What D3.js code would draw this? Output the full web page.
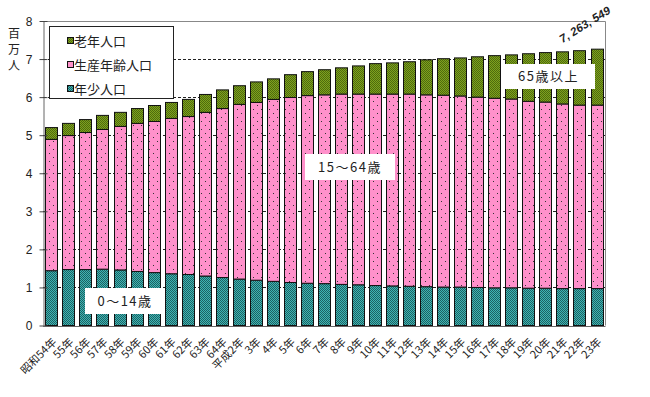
<!DOCTYPE html>
<html>
<head>
<meta charset="utf-8">
<script src="https://cdn.jsdelivr.net/npm/d3@7"></script>
<style>
  body { margin: 0; background: #fff; }
  text { font-family: "Noto Sans CJK JP", "Liberation Sans", sans-serif; fill: #222; }
</style>
</head>
<body>
<svg id="chart" width="650" height="397"></svg>
<script>
// Data (millions of people)
var years = ["昭和54年", "55年", "56年", "57年", "58年", "59年", "60年", "61年", "62年", "63年", "64年",
  "平成2年", "3年", "4年", "5年", "6年", "7年", "8年", "9年", "10年", "11年", "12年", "13年",
  "14年", "15年", "16年", "17年", "18年", "19年", "20年", "21年", "22年", "23年"];
var young = [1.44, 1.47, 1.47, 1.48, 1.46, 1.42, 1.39, 1.36, 1.34, 1.30, 1.26, 1.22, 1.19, 1.16, 1.13, 1.11,
  1.10, 1.08, 1.07, 1.05, 1.04, 1.03, 1.02, 1.01, 1.01, 1.00, 0.99, 0.99, 0.98, 0.98, 0.97, 0.97, 0.97];
var working = [3.45, 3.52, 3.60, 3.67, 3.77, 3.89, 3.97, 4.08, 4.15, 4.30, 4.44, 4.59, 4.67, 4.78, 4.86, 4.93,
  4.96, 5.00, 5.01, 5.03, 5.04, 5.05, 5.04, 5.04, 5.02, 5.00, 4.98, 4.96, 4.91, 4.89, 4.85, 4.82, 4.82];
var elderly = [0.31, 0.32, 0.34, 0.37, 0.37, 0.39, 0.42, 0.42, 0.45, 0.47, 0.49, 0.49, 0.54, 0.54, 0.60, 0.63,
  0.66, 0.69, 0.74, 0.80, 0.82, 0.85, 0.92, 0.96, 1.00, 1.06, 1.12, 1.16, 1.25, 1.30, 1.37, 1.43, 1.47];
var yTicks = [0, 1, 2, 3, 4, 5, 6, 7, 8];
var seriesKeys = ["young", "working", "elderly"];
var legendNames = { elderly: "老年人口", working: "生産年齢人口", young: "年少人口" };
var lastTotalLabel = "7, 263, 549";

// Plot area
var plotL = 43, plotR = 605, plotT = 21, plotB = 325.5;

var svg = d3.select("#chart");
var defs = svg.append("defs");

// Fill patterns
var teal = defs.append("pattern").attr("id", "p-young").attr("patternUnits", "userSpaceOnUse")
  .attr("width", 2).attr("height", 2);
teal.append("rect").attr("width", 2).attr("height", 2).attr("fill", "#3fb5b3");
teal.append("rect").attr("width", 1).attr("height", 1).attr("fill", "#1c6163");
teal.append("rect").attr("x", 1).attr("y", 1).attr("width", 1).attr("height", 1).attr("fill", "#1c6163");

var pink = defs.append("pattern").attr("id", "p-working").attr("patternUnits", "userSpaceOnUse")
  .attr("width", 8).attr("height", 8);
pink.append("rect").attr("width", 8).attr("height", 8).attr("fill", "#ff91cb");
pink.append("rect").attr("x", 1).attr("y", 1).attr("width", 1).attr("height", 1).attr("fill", "#333");
pink.append("rect").attr("x", 5).attr("y", 5).attr("width", 1).attr("height", 1).attr("fill", "#333");

var green = defs.append("pattern").attr("id", "p-elderly").attr("patternUnits", "userSpaceOnUse")
  .attr("width", 2).attr("height", 2);
green.append("rect").attr("width", 2).attr("height", 2).attr("fill", "#7fa21e");
green.append("rect").attr("width", 1).attr("height", 1).attr("fill", "#4e6a0e");
green.append("rect").attr("x", 1).attr("y", 1).attr("width", 1).attr("height", 1).attr("fill", "#4e6a0e");

// Scales
var x = d3.scaleBand().domain(years).range([plotL, plotR]).paddingInner(0.29).paddingOuter(0.14);
var y = d3.scaleLinear().domain([0, 8]).range([plotB, plotT]);

var rows = years.map(function (d, i) {
  return { year: d, young: young[i], working: working[i], elderly: elderly[i] };
});
var stacked = d3.stack().keys(seriesKeys)(rows);

// Gridlines (dashed) behind bars
svg.append("g").selectAll("line").data(yTicks.filter(function (t) { return t > 0 && t < 8; }))
  .enter().append("line")
  .attr("x1", plotL).attr("x2", plotR)
  .attr("y1", function (d) { return Math.round(y(d)) + 0.5; })
  .attr("y2", function (d) { return Math.round(y(d)) + 0.5; })
  .attr("stroke", "#222").attr("stroke-dasharray", "3,2");

// Plot border (top and right)
svg.append("path")
  .attr("d", "M" + plotL + "," + (plotT + 0.5) + "H" + (plotR + 0.5) + "V" + plotB)
  .attr("fill", "none").attr("stroke", "#888");

// Bars
svg.append("g").selectAll("g").data(stacked).enter().append("g")
  .attr("fill", function (d) { return "url(#p-" + d.key + ")"; })
  .selectAll("rect").data(function (d) { return d; }).enter().append("rect")
  .attr("x", function (d) { return Math.round(x(d.data.year)) + 0.5; })
  .attr("width", Math.round(x.bandwidth()))
  .attr("y", function (d) { return y(d[1]); })
  .attr("height", function (d) { return y(d[0]) - y(d[1]); })
  .attr("stroke", "#111").attr("stroke-width", 1);

// Y axis
var yAxis = svg.append("g").attr("transform", "translate(" + (plotL + 0.5) + ",0)")
  .call(d3.axisLeft(y).tickValues(yTicks).tickSize(4).tickSizeOuter(0));
yAxis.select(".domain").attr("stroke", "#666");
yAxis.selectAll(".tick line").attr("stroke", "#444").attr("x2", 4).attr("x1", -4);
yAxis.selectAll(".tick text").attr("x", -11).attr("dy", "0.35em")
  .style("font-size", "12px").style("font-family", "Liberation Sans, sans-serif");

// X axis line
svg.append("line").attr("x1", plotL).attr("x2", plotR + 0.5)
  .attr("y1", Math.round(plotB) + 0.5).attr("y2", Math.round(plotB) + 0.5)
  .attr("stroke", "#666");

// X tick labels, rotated
svg.append("g").selectAll("text").data(years).enter().append("text")
  .attr("transform", function (d) {
    return "translate(" + (x(d) + x.bandwidth() / 2 + 3) + "," + 340 + ") rotate(-45)";
  })
  .attr("text-anchor", "end")
  .attr("dy", "0.35em")
  .style("font-size", "11px")
  .text(function (d) { return d; });

// Y axis unit label
svg.append("g").selectAll("text").data(["百", "万", "人"]).enter().append("text")
  .attr("x", 14).attr("y", function (d, i) { return 34 + i * 16; })
  .attr("dy", "0.35em")
  .attr("text-anchor", "middle").style("font-size", "12px")
  .text(function (d) { return d; });

// Legend
var legend = svg.append("g");
legend.append("rect").attr("x", 49.5).attr("y", 26.5).attr("width", 124).attr("height", 72)
  .attr("fill", "#fff").attr("stroke", "#222");
var legendKeys = ["elderly", "working", "young"];
legendKeys.forEach(function (k, i) {
  var ly = 41 + i * 24;
  legend.append("rect").attr("x", 67.5).attr("y", ly - 3.5).attr("width", 6).attr("height", 6)
    .attr("fill", "url(#p-" + k + ")").attr("stroke", "#111");
  legend.append("text").attr("x", 74).attr("y", ly).attr("dy", "0.35em")
    .style("font-size", "13px").text(legendNames[k]);
});

// Range labels in white boxes
var boxes = [
  { text: "0〜14歳", x: 85, y: 288, w: 80, h: 26 },
  { text: "15〜64歳", x: 305, y: 154, w: 90, h: 26 },
  { text: "65歳以上", x: 502, y: 64, w: 93, h: 25 }
];
var bg = svg.append("g").selectAll("g").data(boxes).enter().append("g");
bg.append("rect").attr("x", function (d) { return d.x; }).attr("y", function (d) { return d.y; })
  .attr("width", function (d) { return d.w; }).attr("height", function (d) { return d.h; })
  .attr("fill", "#fff");
bg.append("text").attr("x", function (d) { return d.x + d.w / 2; })
  .attr("y", function (d) { return d.y + d.h / 2; })
  .attr("dy", "0.35em").attr("text-anchor", "middle")
  .style("font-size", "13px").style("letter-spacing", "1.5px")
  .text(function (d) { return d.text; });

// Latest total label
var lastIdx = years.length - 1;
var lastTop = young[lastIdx] + working[lastIdx] + elderly[lastIdx];
svg.append("text")
  .attr("transform", "translate(" + (x(years[lastIdx]) - 28) + "," + (y(lastTop) - 6) + ") rotate(-32)")
  .style("font-size", "11.5px").style("font-weight", "bold").style("font-style", "italic")
  .style("font-family", "Liberation Sans, sans-serif")
  .text(lastTotalLabel);
</script>
</body>
</html>
